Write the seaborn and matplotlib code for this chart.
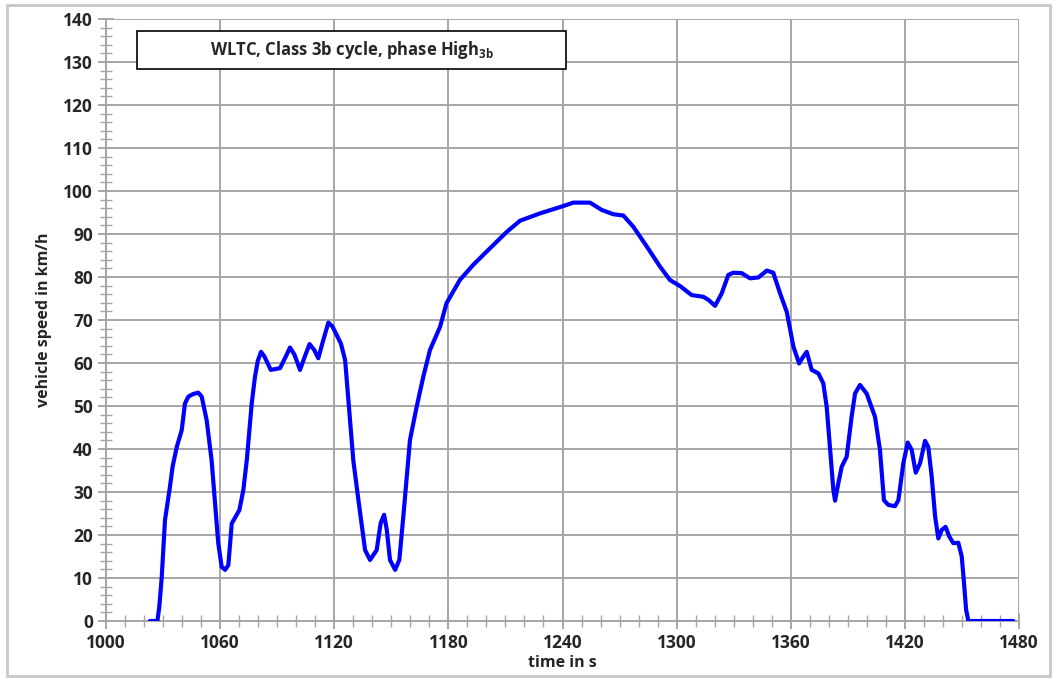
import matplotlib.pyplot as plt
import numpy as np
import seaborn as sns
from matplotlib.patches import Rectangle
from matplotlib.ticker import FixedLocator, MultipleLocator

# WLTC class 3b, phase High
time_s = [
    1023, 1027, 1028, 1029.3, 1031, 1033.6, 1035, 1037.2, 1039.8, 1041.5,
    1043.3, 1045.9, 1048.5, 1050.3, 1052.9, 1055.5, 1057.3, 1059, 1060.8, 1062.6,
    1064.3, 1066.1, 1068.3, 1070.1, 1072.2, 1074, 1076.6, 1078.3, 1079.8, 1081.5,
    1083.3, 1086.6, 1091.5, 1094.5, 1096.7, 1099, 1102, 1104.5, 1107, 1109.5,
    1111.6, 1114, 1116.9, 1119, 1121.3, 1123.5, 1125.7, 1130, 1132.7, 1136.2,
    1138.8, 1142.3, 1144.4, 1146.2, 1147.6, 1149.3, 1152, 1154.2, 1156.3, 1159.8,
    1163.3, 1166.8, 1170.3, 1175.6, 1179, 1186, 1193, 1201.9, 1210.7, 1217.7,
    1228.2, 1240.4, 1245.7, 1254.5, 1260.6, 1266.7, 1272, 1277.2, 1284.3, 1291.3,
    1296.5, 1301.8, 1307.9, 1314, 1316.7, 1320.2, 1323.7, 1327.2, 1329.8, 1334.2,
    1338.6, 1343, 1347.4, 1350.8, 1354.4, 1357.9, 1361.4, 1364.4, 1366.6, 1368.4,
    1371, 1374.5, 1377.1, 1378.9, 1380.7, 1382.4, 1383.3, 1385, 1386.8, 1389.4,
    1392, 1393.8, 1396.4, 1399.9, 1404.3, 1406.9, 1409, 1411.3, 1414.8, 1416.6,
    1419.2, 1421.5, 1423.6, 1425.7, 1428, 1430.6, 1432.3, 1434.1, 1435.9, 1437.6,
    1439.4, 1441.4, 1443.4, 1445.5, 1448.1, 1449.9, 1451.1, 1452.2, 1453.4, 1477,
]
speed_kmh = [
    0, 0, 3.3, 10.3, 23.5, 31.2, 35.9, 40.5, 44.4, 50.6,
    52.2, 52.8, 53.1, 52.2, 46.7, 37.4, 27.4, 18.1, 12.6, 11.9,
    13.0, 22.7, 24.4, 25.8, 30.5, 37.4, 50.6, 56.8, 60.5, 62.6,
    61.5, 58.4, 58.8, 61.5, 63.6, 62.0, 58.4, 61.5, 64.4, 63.0,
    61.1, 65.0, 69.4, 68.5, 66.5, 64.5, 60.7, 37.4, 28.1, 16.5,
    14.2, 16.5, 22.8, 24.7, 21.2, 14.2, 11.9, 14.2, 24.3, 42.1,
    49.8, 56.8, 63.0, 68.4, 73.9, 79.3, 82.8, 86.7, 90.5, 93.1,
    94.8, 96.5, 97.3, 97.3, 95.6, 94.6, 94.3, 91.7, 87.1, 82.4,
    79.3, 77.9, 75.8, 75.4, 74.7, 73.3, 76.2, 80.5, 81.0, 80.9,
    79.7, 79.9, 81.5, 81.0, 76.2, 71.9, 63.8, 59.9, 61.5, 62.6,
    58.4, 57.6, 55.3, 49.8, 39.8, 30.5, 28.0, 32.0, 35.9, 38.2,
    47.5, 52.9, 54.9, 52.9, 47.5, 39.8, 28.1, 27.0, 26.7, 28.1,
    36.7, 41.5, 39.8, 34.5, 36.7, 41.9, 40.5, 33.6, 24.3, 19.2,
    21.2, 21.9, 19.6, 18.1, 18.2, 15.0, 8.8, 2.6, 0, 0,
]

x_ticks = [1000, 1060, 1120, 1180, 1240, 1300, 1360, 1420, 1480]
title_text = r"WLTC, Class 3b cycle, phase High$_\mathbf{3b}$"

sns.set_style("white")
plt.rcParams["font.family"] = ["Open Sans", "DejaVu Sans"]
plt.rcParams["mathtext.fontset"] = "custom"
plt.rcParams["mathtext.bf"] = "Open Sans:bold"
plt.rcParams["mathtext.rm"] = "Open Sans"

grid_col = "#a6a6a6"

fig = plt.figure(figsize=(10.53, 6.79), dpi=100)
ax = fig.add_axes([0.1007, 0.0854, 0.867, 0.8866])

sns.lineplot(x=time_s, y=speed_kmh, ax=ax, color="#0000ff", linewidth=3.0,
             solid_joinstyle="round", solid_capstyle="round", zorder=3)

ax.set_xlim(x_ticks[0], x_ticks[-1])
ax.set_ylim(0, 140)
ax.xaxis.set_major_locator(FixedLocator(x_ticks))
ax.xaxis.set_minor_locator(FixedLocator(np.arange(x_ticks[0], x_ticks[-1] + 1, 10)))
ax.yaxis.set_major_locator(MultipleLocator(10))
ax.yaxis.set_minor_locator(MultipleLocator(2))

ax.grid(True, which="major", color=grid_col, linewidth=1.4)
ax.tick_params(which="major", direction="inout", length=11, width=1.4,
               color=grid_col, labelsize=12.5, pad=4)
ax.tick_params(which="minor", direction="inout", length=9, width=1.0,
               color=grid_col)
ax.tick_params(axis="x", which="both", top=False, bottom=True)
ax.tick_params(axis="y", which="both", left=True, right=False)
for lab in ax.get_xticklabels() + ax.get_yticklabels():
    lab.set_fontweight("bold")

for side in ["top", "right"]:
    ax.spines[side].set_visible(False)
for side in ["left", "bottom"]:
    ax.spines[side].set_color(grid_col)
    ax.spines[side].set_linewidth(1.4)

ax.set_xlabel("time in s", fontsize=11.5, fontweight="bold", labelpad=2)
ax.set_ylabel("vehicle speed in km/h", fontsize=11.5, fontweight="bold", labelpad=8)

# title box
ax.add_patch(Rectangle((0.034, 0.917), 0.470, 0.063, transform=ax.transAxes,
                       facecolor="white", edgecolor="black", linewidth=1.2, zorder=5))
ax.text(0.269, 0.949, title_text, transform=ax.transAxes, ha="center", va="center",
        fontsize=12, fontweight="bold", zorder=6)

# outer frame
fig.patches.append(Rectangle((0.007, 0.004), 0.99, 0.988, transform=fig.transFigure,
                             fill=False, edgecolor="#c8c8c8", linewidth=2))

plt.savefig("out.png", dpi=100)
plt.close(fig)
